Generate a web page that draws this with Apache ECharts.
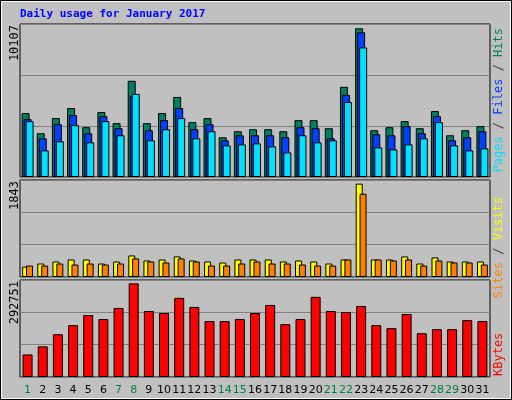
<!DOCTYPE html>
<html><head><meta charset="utf-8">
<script src="https://cdn.jsdelivr.net/npm/echarts@6/dist/echarts.min.js"></script>
<style>html,body{margin:0;padding:0;background:#c0c0c0}#c{width:512px;height:400px}</style>
</head><body><div id="c"></div>
<script>
var days = ['1','2','3','4','5','6','7','8','9','10','11','12','13','14','15','16','17','18','19','20','21','22','23','24','25','26','27','28','29','30','31'];
var weekend = ['1','7','8','14','15','21','22','28','29'];
var hits = [4345,2973,4002,4688,3385,4414,3659,6541,3659,4345,5443,3728,4002,2699,3110,3247,3247,3110,3865,3865,3316,6129,10107,3179,3385,3796,3316,4482,2836,3179,3453];
var files = [3934,2630,3590,4208,2973,4139,3316,5511,3179,3865,4688,3247,3590,2493,2836,2836,2836,2699,3385,3316,2630,5580,9834,2904,2836,3453,2973,4139,2493,2699,3110];
var pages = [3796,1807,2424,3522,2356,3796,2836,5649,2493,3247,4002,2630,3110,2150,2218,2287,2081,1670,2836,2356,2493,5100,8805,2013,1875,2218,2630,3728,2150,1807,1944];
var visits = [206,266,306,346,346,266,306,426,326,346,406,326,306,286,346,346,346,306,326,306,266,346,1843,346,346,406,266,386,306,306,306];
var sites = [226,226,266,246,266,246,266,366,306,286,366,306,226,226,266,306,266,266,246,226,226,346,1643,346,326,346,226,326,286,286,246];
var kbytes = [70551,95823,133731,162162,193752,181116,215865,292751,206388,200070,247455,219024,174798,174798,181116,200070,225342,165321,181116,250614,206388,203229,222183,162162,152685,196911,136890,149526,149526,177957,174798];
var maxLabels = ['10107','1843','292751'];

var ch = echarts.init(document.getElementById('c'));
var mono = 'DejaVu Sans Mono';
var tops = [25,181,281], heights = [152,96,96], maxes = [10400,1915,303264];
var grids = [], xs = [], ys = [];
for (var i=0;i<3;i++){
  grids.push({left:20,right:22,top:tops[i]-1,height:heights[i]+1,show:true,backgroundColor:'#c0c0c0',borderColor:'#000',borderWidth:1});
  xs.push({type:'category',data:days,gridIndex:i,boundaryGap:true,
    axisLine:{show:false},axisTick:{show:false},
    axisLabel:{show:i===2,fontFamily:'DejaVu Sans',fontSize:11,margin:8,interval:0,
      color:function(v){return weekend.indexOf(v)>=0?'#008040':'#000';}}});
  ys.push({type:'value',gridIndex:i,min:0,max:maxes[i],interval:maxes[i]/3,
    axisLabel:{show:false},axisLine:{show:false},axisTick:{show:false},
    splitLine:{show:true,lineStyle:{color:'#808080',width:1}}});
}
// adjust x range to plot area 25..488
grids.forEach(function(g){g.left=20;g.right=22;});
function bar(name,data,color,gi,w,gap){
  return {name:name,type:'bar',xAxisIndex:gi,yAxisIndex:gi,data:data,barWidth:w,barGap:gap,
    itemStyle:{color:color,borderColor:'#000',borderWidth:1},silent:true,animation:false};
}
var series=[
  bar('Hits',hits,'#008060',0,8,'-75%'),
  bar('Files',files,'#0040ff',0,8,'-75%'),
  bar('Pages',pages,'#00e0ff',0,8,'-75%'),
  bar('Visits',visits,'#ffff00',1,7,'-45%'),
  bar('Sites',sites,'#ff8000',1,7,'-45%'),
  bar('KBytes',kbytes,'#ff0000',2,10,'0%')
];
function vtext(x,y,txt,align,rich){
  return {type:'text',x:x,y:y,rotation:Math.PI/2,
    style:{text:txt,align:align,verticalAlign:'middle',font:'12px '+mono,fill:'#000',rich:rich}};
}
var rich={p:{fill:'#00e0ff',font:'12px '+mono},f:{fill:'#0040ff',font:'12px '+mono},h:{fill:'#008060',font:'12px '+mono},
  s:{fill:'#ff8000',font:'12px '+mono},v:{fill:'#ffff00',font:'12px '+mono},k:{fill:'#ff0000',font:'12px '+mono},
  d:{fill:'#404040',font:'12px '+mono}};
ch.setOption({
  animation:false,backgroundColor:'#c0c0c0',
  grid:grids,xAxis:xs,yAxis:ys,series:series,
  graphic:[
    {type:'rect',shape:{x:0.5,y:0.5,width:511,height:399},style:{fill:'none',stroke:'#000',lineWidth:1}},
    {type:'rect',shape:{x:1.5,y:1.5,width:509,height:397},style:{fill:'none',stroke:'#fff',lineWidth:1}},
    {type:'text',x:20,y:14,style:{text:'Daily usage for January 2017',font:'bold 11px '+mono,fill:'#0000ff',verticalAlign:'middle'}},
    vtext(15,25,maxLabels[0],'right'),
    vtext(15,181,maxLabels[1],'right'),
    vtext(15,281,maxLabels[2],'right'),
    vtext(499,28,'{p|Pages}{d| / }{f|Files}{d| / }{h|Hits}','right',rich),
    vtext(499,197,'{s|Sites}{d| / }{v|Visits}','right',rich),
    vtext(499,376,'{k|KBytes}','left',rich)
  ]
});
</script></body></html>
